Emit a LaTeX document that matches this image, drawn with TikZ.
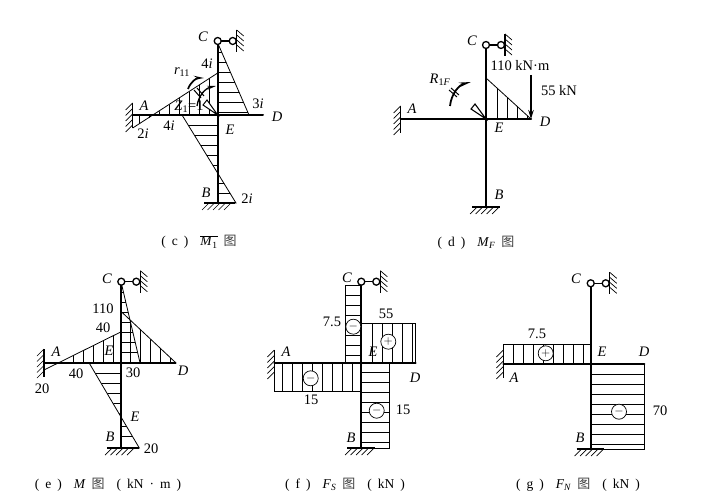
\documentclass[tikz,border=0pt]{standalone}
\usepackage{fontspec}
\setmainfont{Liberation Serif}
\newfontfamily\cjkf{Noto Sans CJK SC}
\usetikzlibrary{arrows.meta}
\newcommand{\tu}{{\cjkf\fontsize{13}{14}\selectfont\color{black!75}图}}
\newcommand{\gp}{\hspace{6pt}}
\tikzset{
  frm/.style={line width=2pt,line cap=round},
  lnk/.style={line width=1.4pt},
  hin/.style={draw,fill=white,line width=1.3pt,circle,minimum size=7pt,inner sep=0pt},
  thn/.style={line width=0.7pt},
  edgeln/.style={line width=0.8pt},
  htc/.style={line width=0.55pt},
  lbl/.style={inner sep=0pt,font=\fontsize{14.5}{16}\selectfont},
  captxt/.style={inner sep=0pt,font=\fontsize{13.5}{16}\selectfont},
  sgn/.style={draw,fill=white,line width=0.7pt,circle,minimum size=15pt,inner sep=0pt,font=\fontsize{13}{13}\selectfont},
}
\newcommand{\lnksup}[2]{%
  \draw[lnk] (#1,#2) -- (#1+15,#2);
  \node[hin] at (#1,#2) {};
  \node[hin] at (#1+15,#2) {};
  \draw[line width=1.4pt] (#1+19,#2-11) -- (#1+19,#2+11);
  \foreach \qq in {-11,-6,-1,4}{\draw[thn] (#1+19,#2+\qq) -- (#1+26,#2+\qq+6);}
}
\newcommand{\lwall}[3]{%
  \draw[line width=1.4pt] (#1,#2) -- (#1,#3);
  \foreach \qq in {0,5.5,...,22}{\draw[thn] (#1,#2+\qq) -- (#1-7,#2+\qq+7);}
}
\newcommand{\bwall}[3]{%
  \draw[line width=1.4pt] (#1,#3) -- (#2,#3);
  \foreach \qq in {5,10.5,...,28}{\draw[thn] (#1+\qq,#3) -- (#1+\qq-7,#3+7);}
}
\newcommand{\hht}[3]{%
  \begin{scope}\clip #1; \foreach \yy in {#3}{\draw[htc] (#2,\yy) -- ++(110,0);}\end{scope}}
\newcommand{\vht}[3]{%
  \begin{scope}\clip #1; \foreach \xx in {#3}{\draw[htc] (\xx,#2) -- ++(0,110);}\end{scope}}
\begin{document}
\begin{tikzpicture}[x=1pt,y=-1pt]
\useasboundingbox (0,0) rectangle (703,502);
\fill[white] (0,0) rectangle (703,502);

% ---------- (c)
\hht{(217.7,43)--(249,115)--(217.7,115)--cycle}{215}{52,62,...,112}
\hht{(182,115)--(217.7,173)--(217.7,115)--cycle}{175}{125,135,...,170}
\hht{(217.7,173)--(236,203)--(217.7,203)--cycle}{215}{183,193}
\vht{(217.7,73)--(154,115)--(217.7,115)--cycle}{60}{159,169,...,215}
\vht{(132.7,115)--(132.7,128)--(154,115)--cycle}{100}{139,149}
\draw[edgeln] (217.7,43)--(249,115);
\draw[edgeln] (217.7,73)--(132.7,128);
\draw[edgeln] (182,115)--(236,203)--(217.7,203);
\draw[frm] (217.7,41)--(217.7,203);
\draw[frm] (132.7,115)--(263,115);
\lnksup{217.7}{41}
\lwall{132.7}{103}{128}
\bwall{204}{235}{203}
\node[lbl] (tc) at (203,37) {\textit{C}};
\node[lbl] (t4i) at (207,64) {4\textit{i}};
\node[lbl] (tr) at (182,72) {\textit{r}\textsubscript{11}};
\node[lbl] (t3i) at (258,104) {3\textit{i}};
\node[lbl] (ta) at (144,106) {\textit{A}};
\node[lbl] (tz) at (189,107) {\textit{Z}\textsubscript{1}=1};
\node[lbl] (td) at (277,117) {\textit{D}};
\node[lbl] (t2i) at (143,134) {2\textit{i}};
\node[lbl] (t4b) at (169,126) {4\textit{i}};
\node[lbl] (te) at (230,130) {\textit{E}};
\node[lbl] (tb) at (206,193) {\textit{B}};
\node[lbl] (t2j) at (247,199) {2\textit{i}};
\draw[line width=1pt,fill=white] (217.7,115)--(203,105)--(207,100)--cycle;
\draw[line width=1.7pt,-{Stealth[length=10pt,width=4pt]}] (188,89) to[bend left=35] (204,78);
\draw[line width=1.3pt,-{Stealth[length=9pt,width=4pt]}] (197,106) to[bend left=35] (216,86);
\draw[line width=1pt] (194,90)--(201,98) (197,88)--(204,96);
\node[captxt] (capc) at (199,242) {(\gp c\gp)\gp\gp$\overline{\mbox{\textit{M}\textsubscript{1}}}$\gp\tu};

% ---------- (d)
\vht{(486,78)--(531,119)--(486,119)--cycle}{70}{497,507,...,527}
\draw[edgeln] (486,78)--(531,119);
\draw[frm] (486,45)--(486,207);
\draw[frm] (400.7,119)--(531,119);
\lnksup{486}{45}
\lwall{400.7}{106}{133}
\bwall{472}{500}{207}
\draw[line width=1.1pt,fill=white] (486,119)--(471,109)--(475,104)--cycle;
\draw[line width=1.5pt,-{Stealth[length=9pt,width=5.5pt]}] (531,75)--(531,119);
\draw[line width=1.8pt,-{Stealth[length=12pt,width=4.5pt]}] (450,106) to[bend left=35] (471,82);
\draw[line width=1pt] (449,90)--(457,97) (451,88)--(459,95);
\node[lbl] (dc) at (472,41) {\textit{C}};
\node[lbl] (dv) at (520,66) {110 kN·m};
\node[lbl] (dl) at (559,91) {55 kN};
\node[lbl] (dr) at (440,80) {\textit{R}\textsubscript{1\textit{F}}};
\node[lbl] (da) at (412,109) {\textit{A}};
\node[lbl] (dd) at (545,122) {\textit{D}};
\node[lbl] (de) at (499,128) {\textit{E}};
\node[lbl] (db) at (499,195) {\textit{B}};
\node[captxt] (capd) at (476,243) {(\gp d\gp)\gp\gp\textit{M}\textsubscript{\textit{F}}\gp\tu};

% ---------- (e)
\hht{(121.3,283)--(140,362.7)--(121.3,362.7)--cycle}{119}{292,302,...,360}
\hht{(89,362.7)--(121.3,416.7)--(121.3,362.7)--cycle}{85}{373,383,...,413}
\hht{(121.3,416.7)--(139.3,448)--(121.3,448)--cycle}{119}{426,436}
\vht{(121.3,331.7)--(59,362.7)--(121.3,362.7)--cycle}{320}{73,83,...,120}
\vht{(121.3,311.7)--(175.7,362.7)--(121.3,362.7)--cycle}{300}{130,140,...,172}
\draw[edgeln] (121.3,283)--(140,362.7);
\draw[edgeln] (121.3,311.7)--(175.7,362.7);
\draw[edgeln] (121.3,331.7)--(44,370);
\draw[edgeln] (89,362.7)--(139.3,448)--(121.3,448);
\draw[frm] (121.3,282)--(121.3,448);
\draw[frm] (44,362.7)--(175.7,362.7);
\lnksup{121.3}{281.7}
\lwall{44}{349}{376.7}
\bwall{107}{139}{448}
\node[lbl] (ec) at (107,279) {\textit{C}};
\node[lbl] (e110) at (103,309) {110};
\node[lbl] (e40) at (103,328) {40};
\node[lbl] (ea) at (56,352) {\textit{A}};
\node[lbl] (ee) at (109,351) {\textit{E}};
\node[lbl] (e40b) at (76,374) {40};
\node[lbl] (e30) at (133,373) {30};
\node[lbl] (ed) at (183,371) {\textit{D}};
\node[lbl] (e20) at (42,389) {20};
\node[lbl] (ef) at (135,417) {\textit{E}};
\node[lbl] (eb) at (110,437) {\textit{B}};
\node[lbl] (e20b) at (151,449) {20};
\node[captxt] (cape) at (108,485) {(\gp e\gp)\gp\gp\textit{M}\gp\tu\gp\gp(\gp kN\gp·\gp m\gp)};

% ---------- (f)
\hht{(345,285) rectangle (361.3,362.7)}{343}{295,305,...,360}
\vht{(361.3,323.3) rectangle (415.7,362.7)}{320}{372,382,...,412}
\vht{(274.3,362.7) rectangle (361.3,391)}{360}{282,292,...,356}
\hht{(361.3,362.7) rectangle (389.3,448)}{360}{372,382,...,443}
\draw[edgeln] (361.3,285)--(345,285)--(345,362.7);
\draw[edgeln] (361.3,323.3)--(415.7,323.3)--(415.7,362.7);
\draw[edgeln] (274.3,362.7)--(274.3,391)--(361.3,391);
\draw[edgeln] (389.3,362.7)--(389.3,448)--(361.3,448);
\draw[frm] (361.3,282)--(361.3,448);
\draw[frm] (274.3,362.7)--(415.7,362.7);
\lnksup{361.3}{281.7}
\lwall{274.3}{350}{377}
\bwall{347}{375}{448}
\node[sgn] (f1) at (353.3,326.7) {$-$};
\node[sgn] (f2) at (388.3,341.7) {$+$};
\node[sgn] (f3) at (310.7,378.3) {$-$};
\node[sgn] (f4) at (376.7,410.7) {$-$};
\node[lbl] (fc) at (347,278) {\textit{C}};
\node[lbl] (f75) at (332,322) {7.5};
\node[lbl] (f55) at (386,314) {55};
\node[lbl] (fa) at (286,352) {\textit{A}};
\node[lbl] (fe) at (373,352) {\textit{E}};
\node[lbl] (fd) at (415,378) {\textit{D}};
\node[lbl] (f15) at (311,400) {15};
\node[lbl] (f15b) at (403,410) {15};
\node[lbl] (fb) at (351,438) {\textit{B}};
\node[captxt] (capf) at (345,485) {(\gp f\gp)\gp\gp\textit{F}\textsubscript{\textit{S}}\gp\tu\gp\gp(\gp kN\gp)};

% ---------- (g)
\vht{(503.3,344.3) rectangle (590.7,364)}{340}{513,523,...,586}
\hht{(590.7,364) rectangle (644.3,449)}{589}{374,384,...,444}
\draw[edgeln] (503.3,364)--(503.3,344.3)--(590.7,344.3);
\draw[edgeln] (644.3,364)--(644.3,449)--(590.7,449);
\draw[frm] (590.7,284)--(590.7,449);
\draw[frm] (503.3,364)--(644.3,364);
\lnksup{590.7}{283.3}
\lwall{503.3}{350}{378}
\bwall{576.7}{604}{449}
\node[sgn] (g1) at (545.7,353.3) {$+$};
\node[sgn] (g2) at (619,411.7) {$-$};
\node[lbl] (gc) at (576,279) {\textit{C}};
\node[lbl] (g75) at (537,334) {7.5};
\node[lbl] (ge) at (602,352) {\textit{E}};
\node[lbl] (gd) at (644,352) {\textit{D}};
\node[lbl] (ga) at (514,378) {\textit{A}};
\node[lbl] (g70) at (660,411) {70};
\node[lbl] (gb) at (580,438) {\textit{B}};
\node[captxt] (capg) at (578,485) {(\gp g\gp)\gp\gp\textit{F}\textsubscript{\textit{N}}\gp\tu\gp\gp(\gp kN\gp)};
\end{tikzpicture}
\end{document}
